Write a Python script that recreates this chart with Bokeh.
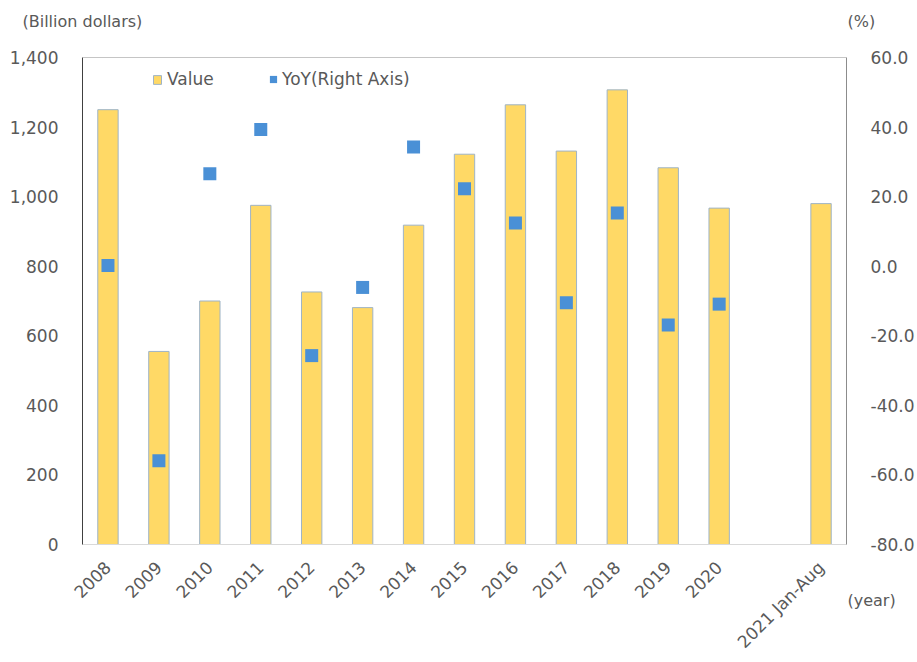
import math

from bokeh.embed import file_html
from bokeh.resources import INLINE
from bokeh.plotting import figure
from bokeh.models import (
    ColumnDataSource, FactorRange, Range1d, LinearAxis, Span,
    FixedTicker, NumeralTickFormatter, Legend, LegendItem, Label,
)

# ---- data -------------------------------------------------------------
years = ["2008", "2009", "2010", "2011", "2012", "2013", "2014", "2015",
         "2016", "2017", "2018", "2019", "2020", "2021 Jan-Aug"]
value_bn = [1250, 555, 700, 975, 726, 681, 918, 1122, 1264, 1131, 1307,
            1083, 967, 980]
yoy_years = ["2008", "2009", "2010", "2011", "2012", "2013", "2014", "2015",
             "2016", "2017", "2018", "2019", "2020"]
yoy_pct = [0.2, -55.9, 26.6, 39.3, -25.7, -6.1, 34.3, 22.3, 12.4, -10.5,
           15.3, -16.9, -10.9]
# axis layout: an empty slot separates the partial year from the rest
x_factors = years[:13] + [" "] + years[13:]
left_ticks = [0, 200, 400, 600, 800, 1000, 1200, 1400]
right_ticks = [-80, -60, -40, -20, 0, 20, 40, 60]

FONT = "DejaVu Sans"
TEXT = "#595959"
BAR_FILL = "#FFD966"
BAR_LINE = "#9FB4C7"
DOT = "#4A90D6"

bars = ColumnDataSource(dict(year=years, value=value_bn))
dots = ColumnDataSource(dict(year=yoy_years, yoy=yoy_pct))

p = figure(
    width=917, height=662,
    x_range=FactorRange(*x_factors, range_padding=0),
    y_range=Range1d(0, 1400),
    output_backend="svg", toolbar_location=None,
    min_border_left=82, min_border_right=70,
    min_border_top=57, min_border_bottom=117,
)
p.extra_y_ranges = {"yoy": Range1d(-80, 60)}
p.outline_line_color = None
p.xgrid.grid_line_color = None
p.ygrid.grid_line_color = None
p.background_fill_color = "white"
p.border_fill_color = "white"

vb = p.vbar(x="year", top="value", source=bars, width=0.4,
            fill_color=BAR_FILL, line_color=BAR_LINE, line_width=1)
sc = p.scatter(x="year", y="yoy", source=dots, y_range_name="yoy",
               marker="square", size=13, fill_color=DOT, line_color=None)

# top edge of the plot area
p.add_layout(Span(location=1400, dimension="width",
                  line_color="#8C8C8C", line_width=1))

# ---- axes -------------------------------------------------------------
def style_axis(ax, line_color):
    ax.axis_line_color = line_color
    ax.axis_line_width = 1
    ax.major_tick_line_color = None
    ax.minor_tick_line_color = None
    ax.major_label_text_font = FONT
    ax.major_label_text_font_size = "17px"
    ax.major_label_text_color = TEXT

xa = p.xaxis[0]
style_axis(xa, "#D9D9D9")
xa.major_label_orientation = math.pi / 4
xa.major_label_standoff = 14

ya = p.yaxis[0]
style_axis(ya, "#404040")
ya.ticker = FixedTicker(ticks=left_ticks)
ya.formatter = NumeralTickFormatter(format="0,0")
ya.major_label_standoff = 18

yr = LinearAxis(y_range_name="yoy")
style_axis(yr, "#8C8C8C")
yr.ticker = FixedTicker(ticks=right_ticks)
yr.formatter = NumeralTickFormatter(format="0.0")
yr.major_label_standoff = 18
p.add_layout(yr, "right")

# ---- legend -----------------------------------------------------------
def make_legend(item, loc, gw, gh, standoff):
    lg = Legend(items=[item], location=loc, orientation="horizontal",
                glyph_width=gw, glyph_height=gh, label_standoff=standoff,
                padding=0, margin=0, border_line_color=None,
                background_fill_alpha=0, label_text_font=FONT,
                label_text_font_size="17px", label_text_color=TEXT)
    p.add_layout(lg, "center")

make_legend(LegendItem(label="Value", renderers=[vb]), (70, 455), 10, 11, 5)
make_legend(LegendItem(label="YoY(Right Axis)", renderers=[sc]),
            (182, 455), 18, 18, 0)

# ---- unit captions (stacked in the top border panel) --------------------
def caption(text, x, y):
    p.add_layout(Label(x=x, y=y, x_units="screen", y_units="screen",
                       text=text, text_font=FONT, text_font_size="16px",
                       text_color=TEXT, text_baseline="middle"), "above")

caption("(Billion dollars)", -60, 36)
caption("(%)", 765, 17)
caption("(year)", 765, -581)

open("out.html", "w").write(file_html(p, INLINE))
